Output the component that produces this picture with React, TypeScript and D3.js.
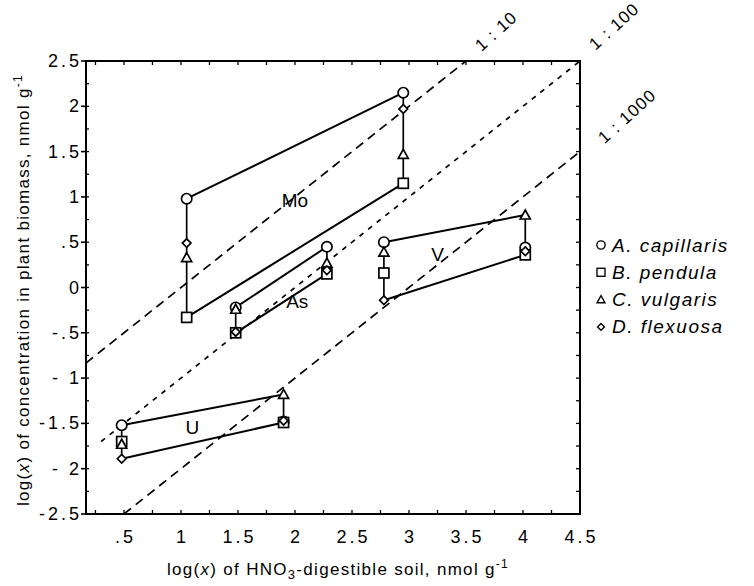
import React from "react";
import * as d3 from "d3";

// ---- data ----
const elements = ["Mo", "As", "V", "U"];
const soilX = [
  [1.05, 2.95],
  [1.48, 2.28],
  [2.78, 4.02],
  [0.48, 1.9],
];
const capillaris = [
  [0.98, 2.15],
  [-0.22, 0.45],
  [0.5, 0.44],
  [-1.52, -1.48],
];
const pendula = [
  [-0.33, 1.15],
  [-0.5, 0.15],
  [0.16, 0.36],
  [-1.7, -1.49],
];
const vulgaris = [
  [0.33, 1.47],
  [-0.24, 0.27],
  [0.39, 0.8],
  [-1.73, -1.18],
];
const flexuosa = [
  [0.49, 1.97],
  [-0.49, 0.19],
  [-0.14, 0.4],
  [-1.89, -1.47],
];
const speciesNames = ["A. capillaris", "B. pendula", "C. vulgaris", "D. flexuosa"];
const speciesShapes = ["circle", "square", "triangle", "diamond"];
const speciesValues = [capillaris, pendula, vulgaris, flexuosa];

const elementLabelX = [2.0, 2.02, 3.25, 1.1];
const elementLabelY = [0.96, -0.16, 0.36, -1.55];

const xTickValues = [0.5, 1, 1.5, 2, 2.5, 3, 3.5, 4, 4.5];
const xTickLabels = [".5", "1", "1.5", "2", "2.5", "3", "3.5", "4", "4.5"];
const yTickValues = [2.5, 2, 1.5, 1, 0.5, 0, -0.5, -1, -1.5, -2, -2.5];
const yTickLabels = ["2.5", "2", "1.5", "1", ".5", "0", "-.5", "- 1", "-1.5", "- 2", "-2.5"];

// ratio lines: log(plant) = log(soil) - offset
const ratioLabels = ["1 : 10", "1 : 100", "1 : 1000"];
const ratioOffsets = [1, 2, 3];
const ratioStartX = [0.167, 0.3, 0.5];

const W = 754;
const H = 586;
const FONT = "'Liberation Sans', Arial, Helvetica, sans-serif";

function Marker({ shape, cx, cy }: { shape: string; cx: number; cy: number }) {
  const sw = 1.7;
  if (shape === "circle")
    return <circle cx={cx} cy={cy} r={5.2} fill="#fff" stroke="#000" strokeWidth={sw} />;
  if (shape === "square")
    return <rect x={cx - 5} y={cy - 5} width={10} height={10} fill="#fff" stroke="#000" strokeWidth={sw} />;
  if (shape === "triangle") {
    const s = 5;
    const pts = `${cx},${cy - s} ${cx + s},${cy + s * 0.8} ${cx - s},${cy + s * 0.8}`;
    return <polygon points={pts} fill="#fff" stroke="#000" strokeWidth={sw} strokeLinejoin="miter" />;
  }
  const s = 4.3;
  const pts = `${cx},${cy - s} ${cx + s},${cy} ${cx},${cy + s} ${cx - s},${cy}`;
  return <polygon points={pts} fill="#fff" stroke="#000" strokeWidth={sw} />;
}

export default function App() {
  const left = 86,
    right = 580,
    top = 61,
    bottom = 514;
  const x = d3.scaleLinear().domain([0.167, 4.5]).range([left, right]);
  const y = d3.scaleLinear().domain([-2.5, 2.5]).range([bottom, top]);
  const line = d3
    .line<[number, number]>()
    .x((d) => x(d[0]))
    .y((d) => y(d[1]));

  const minorX = d3.range(0.25, 4.5001, 0.25);
  const minorY = d3.range(-2.5, 2.5001, 0.25);
  const ratioPos = [
    [496, 31],
    [614, 26],
    [627, 116],
  ];

  return (
    <svg
      width={W}
      height={H}
      style={{ position: "absolute", left: 0, top: 0, background: "#fff" }}
      fontFamily={FONT}
    >
      <defs>
        <clipPath id="plotclip">
          <rect x={left} y={top} width={right - left} height={bottom - top} />
        </clipPath>
      </defs>

      {/* ratio lines */}
      <g clipPath="url(#plotclip)">
        {ratioOffsets.map((off, i) => {
          const x0 = ratioStartX[i];
          const x1 = Math.min(4.5, 2.5 + off);
          return (
            <path
              key={i}
              d={line([
                [x0, x0 - off],
                [x1, x1 - off],
              ]) as string}
              stroke="#000"
              strokeWidth={1.7}
              fill="none"
              strokeDasharray={i === 1 ? "5 6" : "9 6"}
            />
          );
        })}
      </g>
      {ratioLabels.map((t, i) => (
        <g key={t} transform={`translate(${ratioPos[i][0]},${ratioPos[i][1]}) rotate(-42)`}>
          <text x={0} y={6} textAnchor="middle" fontSize={17} letterSpacing={1.2}>
            {t}
          </text>
        </g>
      ))}

      {/* axes frame */}
      <rect x={left} y={top} width={right - left} height={bottom - top} fill="none" stroke="#000" strokeWidth={2} />
      {minorX.map((v, i) => (
        <g key={"mx" + i}>
          <line x1={x(v)} x2={x(v)} y1={top} y2={top + 4} stroke="#000" strokeWidth={1.3} />
          <line x1={x(v)} x2={x(v)} y1={bottom} y2={bottom - 4} stroke="#000" strokeWidth={1.3} />
        </g>
      ))}
      {minorY.map((v, i) => (
        <g key={"my" + i}>
          <line x1={right} x2={right - 4} y1={y(v)} y2={y(v)} stroke="#000" strokeWidth={1.3} />
          <line x1={left} x2={left + 3} y1={y(v)} y2={y(v)} stroke="#000" strokeWidth={1.3} />
        </g>
      ))}
      {yTickValues.map((v, i) => (
        <g key={"yt" + i}>
          <line x1={left - 5} x2={left} y1={y(v)} y2={y(v)} stroke="#000" strokeWidth={1.6} />
          <text
            x={left - 4}
            y={y(v)}
            textAnchor="end"
            dominantBaseline="central"
            fontSize={18}
            letterSpacing={3}
          >
            {yTickLabels[i]}
          </text>
        </g>
      ))}
      {xTickValues.map((v, i) => (
        <text
          key={"xt" + i}
          x={x(v) + 1.5}
          y={543}
          textAnchor="middle"
          fontSize={18}
          letterSpacing={3}
        >
          {xTickLabels[i]}
        </text>
      ))}

      {/* axis titles */}
      <text x={338} y={575} textAnchor="middle" fontSize={17} letterSpacing={1.3}>
        log(<tspan fontStyle="italic">x</tspan>) of HNO
        <tspan fontSize={13} dy={4}>3</tspan>
        <tspan dy={-4}>-digestible soil, nmol g</tspan>
        <tspan fontSize={12} dy={-7}>-1</tspan>
      </text>
      <text
        transform={`translate(29,290) rotate(-90)`}
        textAnchor="middle"
        fontSize={17}
        letterSpacing={1.3}
      >
        log(<tspan fontStyle="italic">x</tspan>) of concentration in plant biomass, nmol g
        <tspan fontSize={12} dy={-7}>-1</tspan>
      </text>

      {/* envelope lines & verticals */}
      {elements.map((el, e) => {
        const xs = soilX[e];
        const vals = xs.map((_, k) => speciesValues.map((s) => s[e][k]));
        const maxs = vals.map((v) => d3.max(v) as number);
        const mins = vals.map((v) => d3.min(v) as number);
        return (
          <g key={el}>
            <path
              d={line([
                [xs[0], maxs[0]],
                [xs[1], maxs[1]],
              ]) as string}
              stroke="#000"
              strokeWidth={2}
              fill="none"
            />
            <path
              d={line([
                [xs[0], mins[0]],
                [xs[1], mins[1]],
              ]) as string}
              stroke="#000"
              strokeWidth={2}
              fill="none"
            />
            {xs.map((xv, k) => (
              <line
                key={k}
                x1={x(xv)}
                x2={x(xv)}
                y1={y(maxs[k])}
                y2={y(mins[k])}
                stroke="#000"
                strokeWidth={1.7}
              />
            ))}
            <text
              x={x(elementLabelX[e])}
              y={y(elementLabelY[e])}
              textAnchor="middle"
              dominantBaseline="central"
              fontSize={19}
            >
              {el}
            </text>
          </g>
        );
      })}

      {/* markers */}
      {speciesValues.map((s, si) =>
        elements.map((el, e) =>
          soilX[e].map((xv, k) => (
            <Marker key={`${si}-${e}-${k}`} shape={speciesShapes[si]} cx={x(xv)} cy={y(s[e][k])} />
          ))
        )
      )}

      {/* legend */}
      {speciesNames.map((n, i) => {
        const cy = 245 + i * 27.3;
        return (
          <g key={n}>
            <g transform={`translate(601,${cy}) scale(0.8)`}>
              <Marker shape={speciesShapes[i]} cx={0} cy={0} />
            </g>
            <text x={612} y={cy} dominantBaseline="central" fontSize={19} fontStyle="italic" letterSpacing={1.5}>
              {n}
            </text>
          </g>
        );
      })}
    </svg>
  );
}
